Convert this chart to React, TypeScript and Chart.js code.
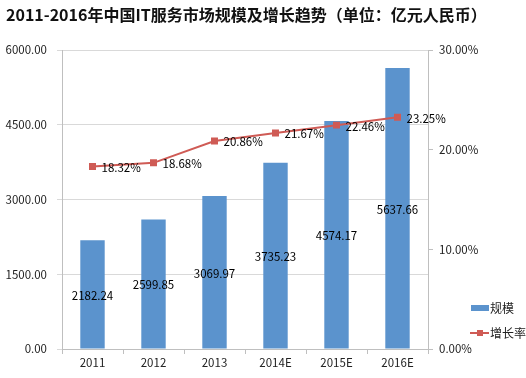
import React, { useEffect, useRef } from "react";
import { Chart, registerables } from "chart.js";
Chart.register(...registerables);

const titleText = "2011-2016年中国IT服务市场规模及增长趋势（单位：亿元人民币）";
const categories = ["2011", "2012", "2013", "2014E", "2015E", "2016E"];
const scaleValues = [2182.24, 2599.85, 3069.97, 3735.23, 4574.17, 5637.66];
const growthRates = [18.32, 18.68, 20.86, 21.67, 22.46, 23.25];
const seriesNames = ["规模", "增长率"];

const BAR = "#5B93CD";
const RED = "#CF5B55";
const FONT = "'Noto Sans CJK SC', 'Noto Sans', sans-serif";

const overlay = {
  id: "overlay",
  afterDatasetsDraw(chart: any) {
    const ctx = chart.ctx;
    ctx.save();
    // title
    ctx.fillStyle = "#111";
    ctx.font = `bold 16px ${FONT}`;
    ctx.textAlign = "left";
    ctx.textBaseline = "middle";
    ctx.fillText(titleText, 6, 15);
    // data labels
    ctx.font = `11.5px ${FONT}`;
    ctx.fillStyle = "#000";
    const barMeta = chart.getDatasetMeta(0);
    barMeta.data.forEach((el: any, i: number) => {
      const cy = (el.y + el.base) / 2;
      ctx.textAlign = "center";
      ctx.fillText(scaleValues[i].toFixed(2), el.x, cy + 1);
    });
    const lineMeta = chart.getDatasetMeta(1);
    lineMeta.data.forEach((el: any, i: number) => {
      ctx.textAlign = "left";
      ctx.fillText(growthRates[i].toFixed(2) + "%", el.x + 9, el.y + 1);
    });
    // legend
    ctx.fillStyle = BAR;
    ctx.fillRect(471, 305, 18, 6);
    ctx.strokeStyle = RED;
    ctx.lineWidth = 2;
    ctx.beginPath();
    ctx.moveTo(470, 333);
    ctx.lineTo(489, 333);
    ctx.stroke();
    ctx.fillStyle = RED;
    ctx.fillRect(477, 330, 6, 6);
    ctx.fillStyle = "#222";
    ctx.font = `12px ${FONT}`;
    ctx.textAlign = "left";
    ctx.fillText(seriesNames[0], 490, 308);
    ctx.fillText(seriesNames[1], 490, 333);
    ctx.restore();
  },
};

export default function App() {
  const ref = useRef<HTMLCanvasElement>(null);
  useEffect(() => {
    document.body.style.margin = "0";
    const chart = new Chart(ref.current!, {
      type: "bar",
      data: {
        labels: categories,
        datasets: [
          {
            type: "bar",
            label: seriesNames[0],
            data: scaleValues,
            backgroundColor: BAR,
            borderWidth: 0,
            barPercentage: 0.4,
            categoryPercentage: 1,
            yAxisID: "y",
            order: 2,
          },
          {
            type: "line",
            label: seriesNames[1],
            data: growthRates,
            borderColor: RED,
            backgroundColor: RED,
            borderWidth: 2,
            pointStyle: "rect",
            pointRadius: 3.5,
            pointHoverRadius: 3.5,
            yAxisID: "y1",
            order: 1,
          } as any,
        ],
      },
      options: {
        animation: false,
        responsive: false,
        layout: { padding: { top: 50, left: 0, right: 0, bottom: 0 } },
        plugins: { legend: { display: false }, tooltip: { enabled: false }, title: { display: false } },
        scales: {
          x: {
            offset: true,
            grid: { offset: true, drawOnChartArea: false, color: "#BFBFBF", tickLength: 5 },
            border: { color: "#BFBFBF" },
            ticks: { color: "#222", font: { family: FONT, size: 11.5 }, padding: 2 },
            afterFit(s: any) { s.height = 29; },
          },
          y: {
            position: "left",
            min: 0,
            max: 6000,
            grid: { color: "#D9D9D9", tickLength: 5 },
            border: { color: "#BFBFBF" },
            ticks: {
              stepSize: 1500,
              color: "#222",
              font: { family: FONT, size: 11.5 },
              padding: 10,
              callback: (v: any) => Number(v).toFixed(2),
            },
            afterFit(s: any) { s.width = 62; },
          },
          y1: {
            position: "right",
            min: 0,
            max: 30,
            grid: { drawOnChartArea: false, color: "#BFBFBF", tickLength: 5 },
            border: { color: "#BFBFBF" },
            ticks: {
              stepSize: 10,
              color: "#222",
              font: { family: FONT, size: 11.5 },
              padding: 6,
              callback: (v: any) => Number(v).toFixed(2) + "%",
            },
            afterFit(s: any) { s.width = 98; },
          },
        },
      },
      plugins: [overlay],
    });
    return () => chart.destroy();
  }, []);
  return (
    <div style={{ position: "fixed", left: 0, top: 0, width: 526, height: 378, background: "#fff" }}>
      <canvas ref={ref} width={526} height={378} style={{ display: "block" }} />
    </div>
  );
}
